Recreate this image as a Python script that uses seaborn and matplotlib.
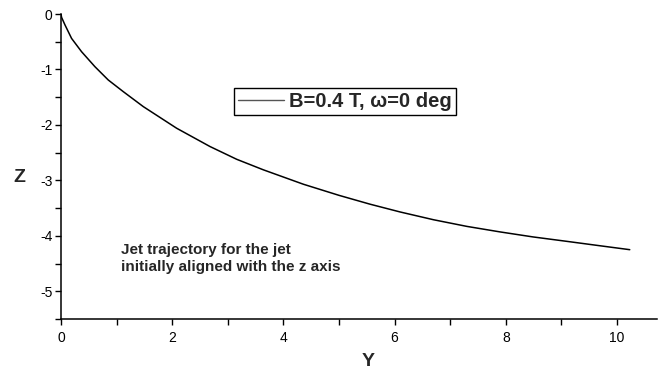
import matplotlib
matplotlib.use("Agg")
import matplotlib.pyplot as plt
from matplotlib.ticker import MultipleLocator
import seaborn as sns
import pandas as pd

# Data
y_vals = [0.0, 0.01, 0.072, 0.19, 0.37, 0.61, 0.85, 1.12, 1.48, 2.08, 2.68, 3.16,
          3.64, 4.36, 5.0, 5.56, 6.1, 6.7, 7.3, 7.9, 8.49, 9.1, 9.7, 10.23]
z_vals = [0.0, -0.06, -0.198, -0.44, -0.68, -0.95, -1.19, -1.40, -1.67, -2.06, -2.39, -2.62,
          -2.81, -3.07, -3.27, -3.43, -3.57, -3.71, -3.83, -3.93, -4.02, -4.10, -4.18, -4.25]
series_label = "B=0.4 T, \u03c9=0 deg"
annotation = "Jet trajectory for the jet\ninitially aligned with the z axis"
x_label = "Y"
y_label = "Z"

df = pd.DataFrame({"Y": y_vals, "Z": z_vals, "series": series_label})

sns.set_style("ticks")
plt.rcParams["font.family"] = ["Liberation Sans", "DejaVu Sans"]
plt.rcParams["axes.unicode_minus"] = False

fig = plt.figure(figsize=(6.6, 3.78), dpi=100)
ax = fig.add_axes([61/660, 1 - 319/378, 596/660, 305/378])

sns.lineplot(data=df, x="Y", y="Z", hue="series", palette=["black"],
             linewidth=1.1, ax=ax, sort=False)

ax.set_xlim(0, 10.72)
ax.set_ylim(-5.5, 0)
ax.xaxis.set_major_locator(MultipleLocator(2))
ax.xaxis.set_minor_locator(MultipleLocator(1))
ax.yaxis.set_major_locator(MultipleLocator(1))
ax.yaxis.set_minor_locator(MultipleLocator(0.5))
ax.tick_params(which="both", direction="out", length=4, width=1.0, color="black",
               labelsize=10, labelcolor="black")
ax.tick_params(axis="x", pad=5)
ax.tick_params(axis="y", pad=2)
sns.despine(ax=ax)
for s in ["left", "bottom"]:
    ax.spines[s].set_linewidth(1.1)
    ax.spines[s].set_color("black")

ax.set_xlabel(x_label, fontsize=14, fontweight="bold", va="center")
ax.set_ylabel(y_label, fontsize=14, fontweight="bold", rotation=0, ha="center", va="center")
ax.xaxis.set_label_coords((368 - 61) / 596, (319 - 362) / 305)
ax.yaxis.set_label_coords((19 - 61) / 596, (319 - 178) / 305)

leg = ax.legend(loc="upper left", bbox_to_anchor=(0.290, 0.757), borderaxespad=0,
                frameon=True, fancybox=False, edgecolor="black", framealpha=1,
                prop={"weight": "bold", "size": 14.5}, handlelength=2.3,
                handletextpad=0.25, borderpad=0.2)
leg.get_frame().set_linewidth(1.0)
for ln in leg.get_lines():
    ln.set_color("#555555")
    ln.set_linewidth(1.0)

ax.text((121 - 61) / 596, (319 - 243) / 305, annotation, transform=ax.transAxes,
        fontsize=11, fontweight="bold", va="top", ha="left", linespacing=1.3)

fig.savefig("out.png", dpi=100)
